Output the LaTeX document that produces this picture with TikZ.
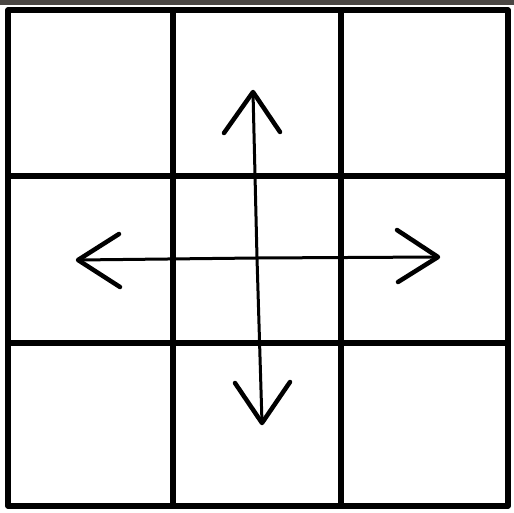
\documentclass[tikz,border=0pt]{standalone}
\definecolor{topbar}{HTML}{4A4643}
\tikzset{
  gridline/.style={line width=5.5pt, line cap=round, line join=round, black},
  shaft/.style={line width=3pt, line cap=round, black},
  arm/.style={line width=4.5pt, line cap=round, line join=round, black}
}
\begin{document}
\begin{tikzpicture}[x=1pt,y=-1pt]
\useasboundingbox (0,0) rectangle (514,513);
\fill[white] (0,0) rectangle (514,513);
\fill[topbar] (0,0) rectangle (514,5);
% grid
\coordinate (tl) at (8,10);
\coordinate (br) at (508,506);
\draw[gridline] (tl) rectangle (br);
\draw[gridline] (173,10) -- (173,506);
\draw[gridline] (341,10) -- (341,506);
\draw[gridline] (8,176) -- (508,176);
\draw[gridline] (8,343) -- (508,343);
% arrows
\coordinate (c) at (257,258);
\coordinate (up) at (253,92);
\coordinate (dn) at (262,423);
\coordinate (lf) at (78,260);
\coordinate (rt) at (438,257);
\draw[shaft] (up) -- (c) -- (dn);
\draw[shaft] (lf) -- (c) -- (rt);
\draw[arm] (224,133) -- (up) -- (280,132);
\draw[arm] (235,383) -- (dn) -- (290,382);
\draw[arm] (119,234) -- (lf) -- (120,287);
\draw[arm] (397,230) -- (rt) -- (398,282);
\end{tikzpicture}
\end{document}
